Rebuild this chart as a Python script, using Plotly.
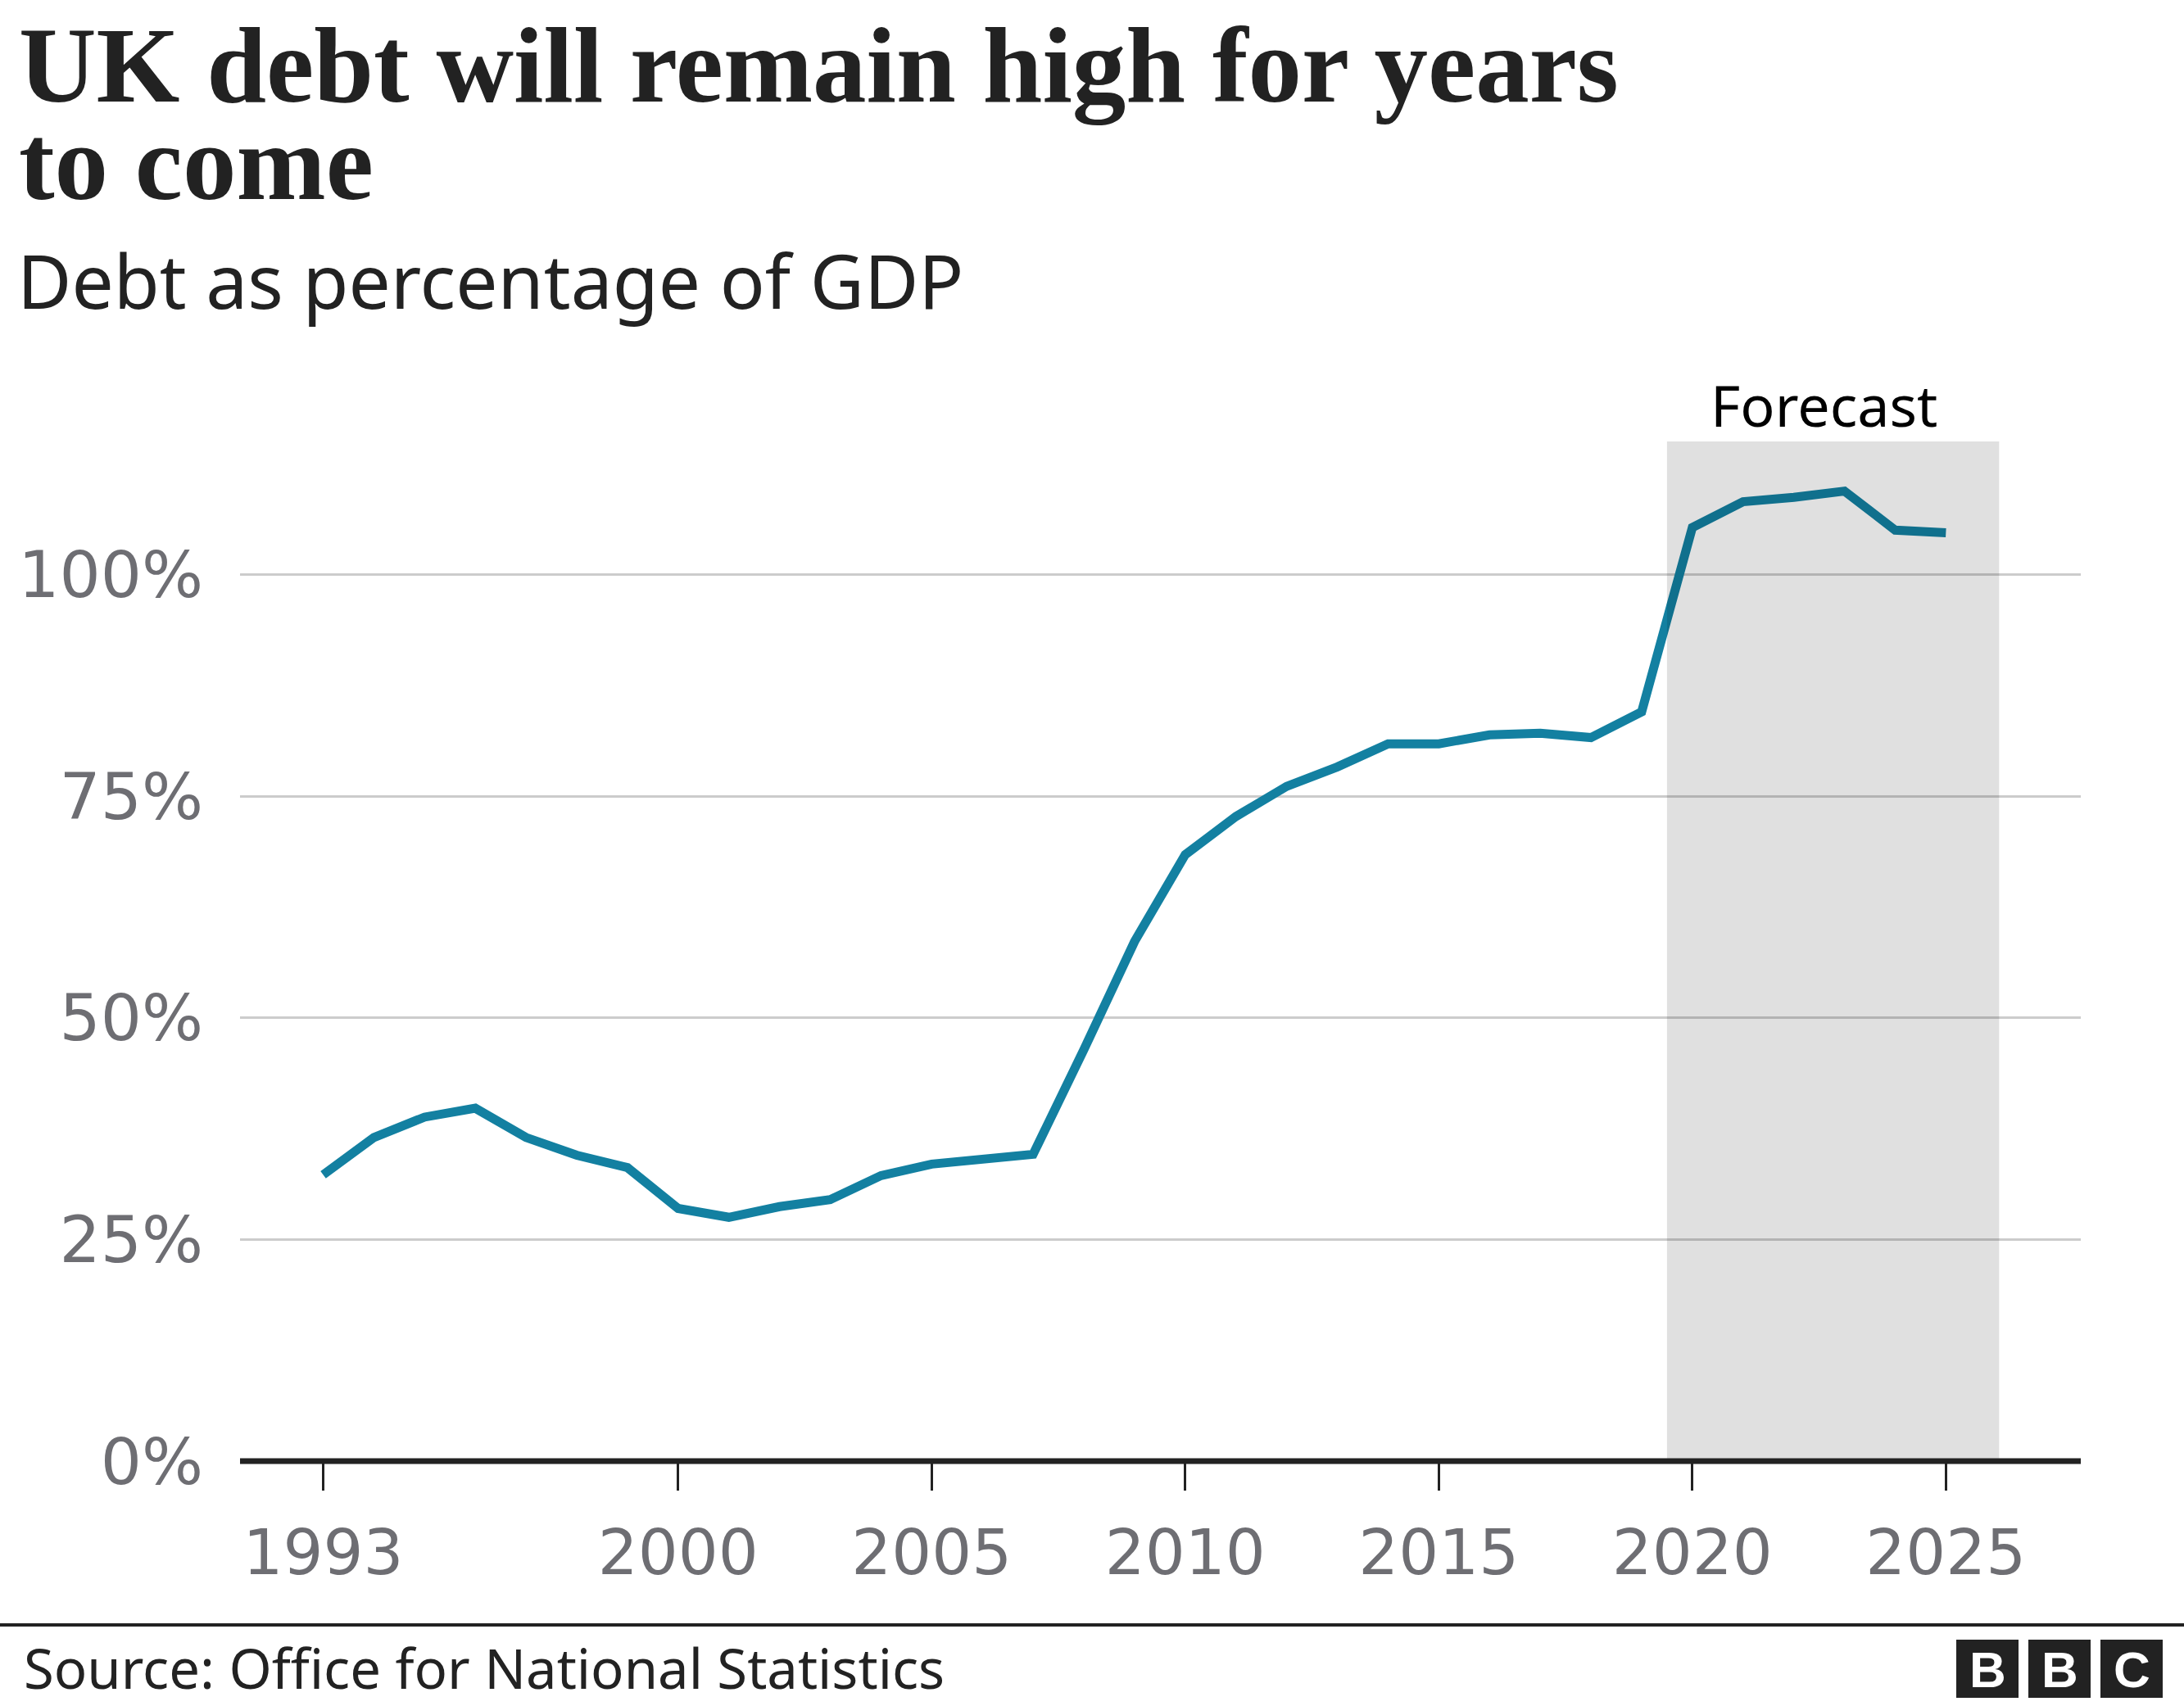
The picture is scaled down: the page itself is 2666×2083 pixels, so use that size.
import plotly.graph_objects as go

# ---- data ----
years = list(range(1993, 2026))
debt_pct = [32.3, 36.5, 38.8, 39.8, 36.5, 34.5, 33.1, 28.5, 27.5, 28.7,
            29.5, 32.2, 33.5, 34.1, 34.6, 46.4, 58.6, 68.4, 72.7, 76.1,
            78.3, 80.9, 80.9, 81.9, 82.1, 81.6, 84.5, 105.3, 108.2, 108.7,
            109.4, 105.0, 104.7]
forecast_start = 2019.5
forecast_end = 2026.05
x_tickvals = [1993, 2000, 2005, 2010, 2015, 2020, 2025]
x_ticktext = ["1993", "2000", "2005", "2010", "2015", "2020", "2025"]
y_tickvals = [0, 25, 50, 75, 100]
y_ticktext = ["0%", "25%", "50%", "75%", "100%"]

title_line1 = "UK debt will remain high for years"
title_line2 = "to come"
subtitle = "Debt as percentage of GDP"
forecast_label = "Forecast"
source_text = "Source: Office for National Statistics"

# ---- layout geometry (pixels) ----
W, H = 2666, 2083
L, R, T, B = 293, 126, 539, 299
PW, PH = W - L - R, H - T - B


def px(xp):
    return (xp - L) / PW


def py(yp):
    return (H - B - yp) / PH


fig = go.Figure()
fig.add_trace(go.Scatter(
    x=years, y=debt_pct, mode="lines",
    line=dict(color="#1380A1", width=11),
    hoverinfo="skip", showlegend=False,
))

shapes = [
    # forecast shading
    dict(type="rect", xref="x", yref="y", x0=forecast_start, x1=forecast_end,
         y0=0, y1=115, fillcolor="rgba(0,0,0,0.12)", line=dict(width=0),
         layer="above"),
    # baseline
    dict(type="line", xref="paper", yref="paper", x0=0, x1=1, y0=0, y1=0,
         line=dict(color="#222222", width=7), layer="above"),
    # footer rule
    dict(type="line", xref="paper", yref="paper", x0=px(0), x1=px(W),
         y0=py(1984), y1=py(1984), line=dict(color="#222222", width=4)),
]
# BBC blocks
block_lefts = [2388, 2476, 2564]
for bl in block_lefts:
    shapes.append(dict(type="rect", xref="paper", yref="paper",
                       x0=px(bl), x1=px(bl + 76), y0=py(2073), y1=py(2002),
                       fillcolor="#222222", line=dict(width=0)))

annotations = [
    dict(text=f"<b>{title_line1}</b>", x=px(22), y=py(80), xanchor="left",
         yanchor="middle", font=dict(family="Liberation Serif", size=131,
                                     color="#222222")),
    dict(text=f"<b>{title_line2}</b>", x=px(22), y=py(198), xanchor="left",
         yanchor="middle", font=dict(family="Liberation Serif", size=131,
                                     color="#222222")),
    dict(text=subtitle, x=px(20), y=py(342), xanchor="left", yanchor="middle",
         font=dict(family="Noto Sans", size=91, color="#222222")),
    dict(text=forecast_label, x=px(2226), y=py(494), xanchor="center",
         yanchor="middle", font=dict(family="Noto Sans", size=70,
                                     color="#000000")),
    dict(text=source_text, x=px(28), y=py(2036), xanchor="left",
         yanchor="middle", font=dict(family="Noto Sans", size=67,
                                     color="#222222")),
]
for bl, letter in zip(block_lefts, ["B", "B", "C"]):
    annotations.append(dict(text=f"<b>{letter}</b>", x=px(bl + 38), y=py(2038),
                            xanchor="center", yanchor="middle",
                            font=dict(family="Liberation Sans", size=62,
                                      color="#ffffff")))
for a in annotations:
    a.update(xref="paper", yref="paper", showarrow=False, borderpad=0)

fig.update_layout(
    width=W, height=H,
    margin=dict(l=L, r=R, t=T, b=B, pad=0),
    paper_bgcolor="white", plot_bgcolor="white",
    showlegend=False, hovermode=False,
    shapes=shapes, annotations=annotations,
    xaxis=dict(range=[1991.36, 2027.66], tickvals=x_tickvals,
               ticktext=x_ticktext, ticks="outside", ticklen=35, tickwidth=3,
               tickcolor="#222222", showgrid=False, zeroline=False,
               showline=False, ticklabelstandoff=10,
               tickfont=dict(family="DejaVu Sans", size=77, color="#6E6E73")),
    yaxis=dict(range=[0, 115], tickvals=y_tickvals, ticktext=y_ticktext,
               ticks="", showgrid=True, gridcolor="#cccccc", gridwidth=3,
               zeroline=False, showline=False, ticklabelstandoff=44,
               tickfont=dict(family="DejaVu Sans", size=79, color="#6E6E73")),
)

fig.write_html(
    "out.html",
    config={"displayModeBar": False, "staticPlot": True},
    post_script="document.body.style.margin='0px';"
                "document.body.style.overflow='hidden';",
)
